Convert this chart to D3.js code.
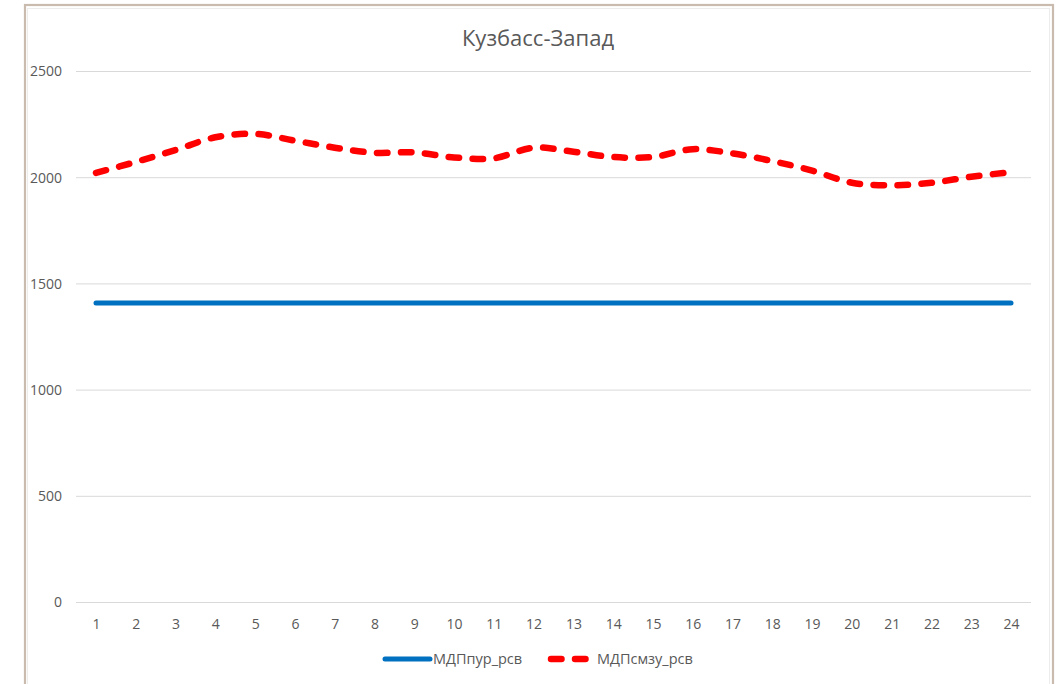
<!DOCTYPE html>
<html>
<head>
<meta charset="utf-8">
<script src="https://cdn.jsdelivr.net/npm/d3@7"></script>
<style>
  html, body { margin: 0; padding: 0; background: #fff; }
  svg { display: block; font-family: "Open Sans", "Liberation Sans", sans-serif; }
</style>
</head>
<body>
<svg id="chart" width="1061" height="684"></svg>
<script>
// Hours of the day
const hours = d3.range(1, 25);
const hourLabels = hours.map(String);

// Series values
const mdpPurValues = [
  1408, 1408, 1408, 1408, 1408, 1408, 1408, 1408, 1408, 1408, 1408, 1408,
  1408, 1408, 1408, 1408, 1408, 1408, 1408, 1408, 1408, 1408, 1408, 1408
];
const mdpSmzuValues = [
  2020, 2072, 2128, 2188, 2204, 2172, 2139, 2115, 2117, 2093, 2089, 2139,
  2120, 2095, 2095, 2132, 2112, 2076, 2031, 1974, 1962, 1974, 2002, 2024
];

const seriesNames = ["МДПпур_рсв", "МДПсмзу_рсв"];
const yTicks = [0, 500, 1000, 1500, 2000, 2500];
const chartTitle = "Кузбасс-Запад";

const svg = d3.select("#chart");

// Outer frame
svg.append("rect").attr("x", 25).attr("y", 5).attr("width", 1028).attr("height", 690)
  .attr("fill", "#fff").attr("stroke", "#c9bcae").attr("stroke-width", 2.2);
svg.append("rect").attr("x", 27.5).attr("y", 8.5).attr("width", 1022).attr("height", 690)
  .attr("fill", "none").attr("stroke", "#ececec").attr("stroke-width", 1);

const plot = { left: 76, right: 1031, top: 71, bottom: 602 };

const x = d3.scalePoint().domain(hours).range([96, 1011]);
const y = d3.scaleLinear().domain([0, 2500]).range([plot.bottom, plot.top]);

// Title
svg.append("text")
  .attr("x", 538).attr("y", 46)
  .attr("text-anchor", "middle")
  .attr("fill", "#595959")
  .style("font-size", "22px")
  .text(chartTitle);

// Horizontal gridlines
svg.append("g").selectAll("line").data(yTicks).join("line")
  .attr("x1", plot.left).attr("x2", plot.right)
  .attr("y1", d => y(d) + 0.5).attr("y2", d => y(d) + 0.5)
  .attr("stroke", "#d9d9d9").attr("stroke-width", 1);

// Y axis labels
const yAxis = d3.axisLeft(y).tickValues(yTicks).tickFormat(d3.format("d")).tickSize(0).tickPadding(0);
const gy = svg.append("g").attr("transform", `translate(62,0)`).call(yAxis);
gy.select(".domain").remove();
gy.selectAll("text").attr("fill", "#595959").style("font-size", "14px")
  .attr("font-family", "\"Open Sans\", sans-serif").attr("dy", "0.35em");

// X axis labels
const xAxis = d3.axisBottom(x).tickFormat((d, i) => hourLabels[i]).tickSize(0).tickPadding(0);
const gx = svg.append("g").attr("transform", `translate(0,619)`).call(xAxis);
gx.select(".domain").remove();
gx.selectAll("text").attr("fill", "#595959").style("font-size", "14px")
  .attr("font-family", "\"Open Sans\", sans-serif").attr("dy", "0.71em");

const line = d3.line()
  .x((d, i) => x(hours[i]))
  .y(d => y(d))
  .curve(d3.curveCatmullRom.alpha(0.5));

// Blue flat series
svg.append("path").datum(mdpPurValues)
  .attr("d", line)
  .attr("fill", "none")
  .attr("stroke", "#0070c0")
  .attr("stroke-width", 5)
  .attr("stroke-linecap", "round");

// Red dashed series
svg.append("path").datum(mdpSmzuValues)
  .attr("d", line)
  .attr("fill", "none")
  .attr("stroke", "#ff0000")
  .attr("stroke-width", 6.5)
  .attr("stroke-linecap", "round")
  .attr("stroke-dasharray", "10.5,13.5");

// Legend
const legend = svg.append("g").attr("transform", "translate(0,659)");
legend.append("line").attr("x1", 385).attr("x2", 430).attr("y1", 0).attr("y2", 0)
  .attr("stroke", "#0070c0").attr("stroke-width", 5).attr("stroke-linecap", "round");
legend.append("text").attr("x", 433).attr("y", 0).attr("dy", "0.35em")
  .attr("fill", "#595959").style("font-size", "14.5px").text(seriesNames[0]);
legend.append("line").attr("x1", 551).attr("x2", 586).attr("y1", 0).attr("y2", 0)
  .attr("stroke", "#ff0000").attr("stroke-width", 6.5).attr("stroke-linecap", "round")
  .attr("stroke-dasharray", "10.5,13.5");
legend.append("text").attr("x", 597).attr("y", 0).attr("dy", "0.35em")
  .attr("fill", "#595959").style("font-size", "14.5px").text(seriesNames[1]);
</script>
</body>
</html>
